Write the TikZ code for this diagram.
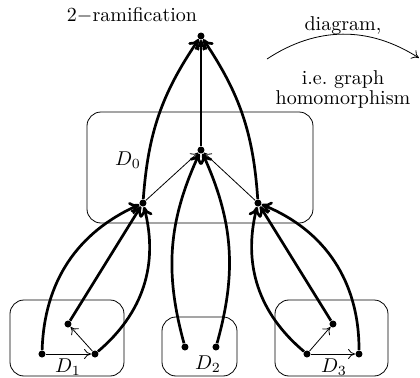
\documentclass[tikz,border=0pt]{standalone}
\usetikzlibrary{arrows.meta}
\begin{document}
\begin{tikzpicture}[x=0.5pt,y=0.5pt,
  dot/.style={circle,fill=black,inner sep=0pt,minimum size=3.5pt},
  thickarr/.style={-{To[length=5pt,width=6.5pt]},line width=1.35pt},
  thinarr/.style={-{To[length=3.5pt,width=5pt]},line width=0.4pt},
  region/.style={draw,line width=0.4pt,rounded corners=7pt},
  lbl/.style={inner sep=0pt}]
\useasboundingbox (0,0) rectangle (420,377);
% boxes
\draw[region] (87,154) rectangle (313,265);
\draw[region] (10,1) rectangle (124,77);
\draw[region] (162,1) rectangle (237,60);
\draw[region] (275,1) rectangle (388,77);
% nodes
\node[dot] (T) at (201,341) {};
\node[dot] (C) at (201,227) {};
\node[dot] (L) at (143,174) {};
\node[dot] (R) at (258,174) {};
\node[dot] (a1) at (42,23) {};
\node[dot] (a2) at (95,23) {};
\node[dot] (a3) at (68,53) {};
\node[dot] (b1) at (185,30) {};
\node[dot] (b2) at (216,30) {};
\node[dot] (c1) at (307,23) {};
\node[dot] (c2) at (359,23) {};
\node[dot] (c3) at (333,53) {};
% labels
\node[lbl] (l0) at (128,217) {$D_0$};
\node[lbl] (l1) at (68,10) {$D_1$};
\node[lbl] (l2) at (208,13) {$D_2$};
\node[lbl] (l3) at (334,10) {$D_3$};
\node[lbl] (title) at (132,362) {2$-$ramification};
\node[lbl] (t1) at (343,351) {diagram,};
\node[lbl,align=center] (t2) at (343,288) {i.e.\ graph\\[-2pt]homomorphism};
\coordinate (m1) at (267,318);
\coordinate (m2) at (419,319);
\draw[thinarr] (m1) to[bend left=33] (m2);
% thin edges
\draw[thinarr] (L) -- (C);
\draw[thinarr] (R) -- (C);
\draw[thinarr] (a1) -- (a2);
\draw[thinarr] (a2) -- (a3);
\draw[thinarr] (c1) -- (c3);
\draw[thinarr] (c1) -- (c2);
% thick edges
\draw[thickarr] (C) -- (T);
\draw[thickarr] (L) to[bend left=15] (T);
\draw[thickarr] (R) to[bend right=15] (T);
\draw[thickarr] (b1) to[bend left=20] (C);
\draw[thickarr] (b2) to[bend right=20] (C);
\draw[thickarr] (a1) to[bend left=32] (L);
\draw[thickarr] (a3) -- (L);
\draw[thickarr] (a2) to[bend right=32] (L);
\draw[thickarr] (c1) to[bend left=32] (R);
\draw[thickarr] (c3) -- (R);
\draw[thickarr] (c2) to[bend right=34] (R);
\end{tikzpicture}
\end{document}
